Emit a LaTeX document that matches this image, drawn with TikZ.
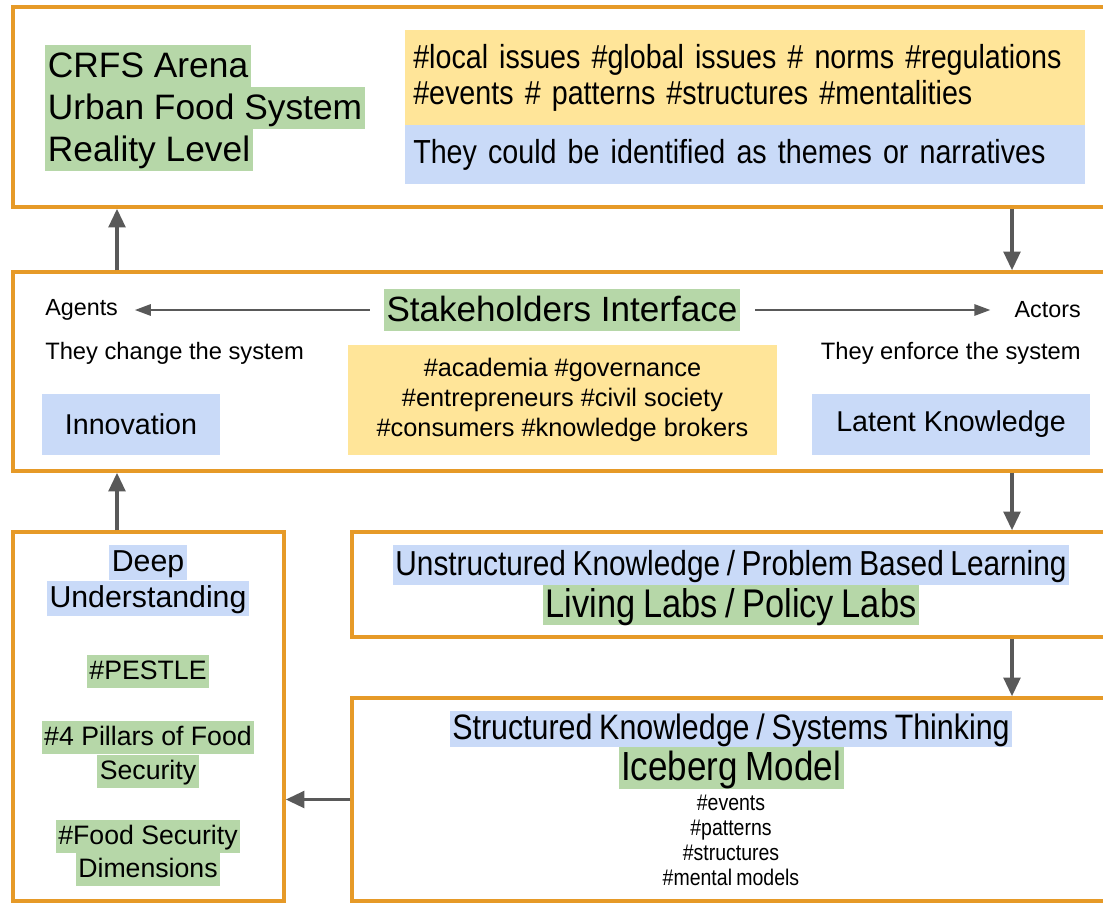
\documentclass[tikz,border=0pt]{standalone}
\usepackage{fontspec}
\setmainfont{Liberation Sans}
\newfontfamily\narrowsf[FakeStretch=0.86, WordSpace=0.8]{Liberation Sans}
\usetikzlibrary{arrows.meta,fit}

\definecolor{frameorange}{HTML}{E69A28}
\definecolor{hlyellow}{HTML}{FFE599}
\definecolor{hlblue}{HTML}{C9DAF8}
\definecolor{hlgreen}{HTML}{B6D7A8}
\definecolor{arrowgray}{HTML}{595959}

\newcommand{\fsz}[2]{\fontsize{#1}{#2}\selectfont}

\tikzset{
  frame/.style={draw=frameorange, line width=2.6pt, inner sep=0pt},
  flow/.style={draw=arrowgray, line width=2.6pt, -{Triangle[length=14pt,width=12.5pt]}},
  thinflow/.style={draw=arrowgray, line width=1.5pt, -{Triangle[length=12pt,width=8.5pt]}},
  greenhl/.style={fill=hlgreen, inner xsep=2pt, inner ysep=0pt},
  bluehl/.style={fill=hlblue, inner xsep=2pt, inner ysep=0pt},
  txt/.style={inner sep=0pt},
}

\begin{document}
\begin{tikzpicture}[x=0.75pt, y=-0.75pt]
  \useasboundingbox (0,0) rectangle (1103,904);
  \coordinate (lx) at (117,0);
  \coordinate (rx) at (1012,0);

  % Ebene 1: Arena
  \node[frame, fit={(13,7) (1115,207)}] (arena) {};
  \node[greenhl, anchor=north west, text height=24.5pt, text depth=7pt, font=\fsz{26.5}{31.5}] (crfs) at (45,45) {CRFS Arena};
  \node[greenhl, anchor=north west, text height=24.5pt, text depth=7pt, font=\fsz{26.5}{31.5}] (urban) at (45,87) {Urban Food System};
  \node[greenhl, anchor=north west, text height=24.5pt, text depth=7pt, font=\fsz{26.5}{31.5}] (reality) at (45,129) {Reality Level};
  \node[fill=hlyellow, anchor=north west, text width=498pt, inner xsep=6pt, inner ysep=0pt, minimum height=71.25pt, align=left, font=\narrowsf\fsz{25}{26.5}] (issues) at (405,30)
    {\#local issues \#global issues \# norms \#regulations\\\#events \# patterns \#structures \#mentalities};
  \node[fill=hlblue, anchor=north west, text width=498pt, inner xsep=6pt, inner ysep=0pt, minimum height=44.25pt, align=left, font=\narrowsf\fsz{25}{26.5}] (themes) at (405,125)
    {They could be identified as themes or narratives};

  % Ebene 2: Schnittstelle
  \node[frame, fit={(13,272) (1115,471)}] (iface) {};
  \node[greenhl, text height=24.5pt, text depth=7pt, font=\fsz{26.3}{31}] (stake) at (562,310) {Stakeholders Interface};
  \node[txt, anchor=west, font=\fsz{17.5}{21}] (agents) at (45,310) {Agents};
  \node[txt, anchor=east, font=\fsz{17.5}{21}] (actors) at (1081,310) {Actors};
  \draw[thinflow, shorten <=10.5pt, shorten >=12.5pt] (stake.west) -- (agents.east);
  \draw[thinflow, shorten <=11pt, shorten >=18pt] (stake.east) -- (actors.west);
  \node[txt, anchor=west, font=\fsz{17.8}{21}] (change) at (45,353) {They change the system};
  \node[txt, anchor=east, font=\fsz{17.8}{21}] (enforce) at (1081,353) {They enforce the system};
  \node[fill=hlyellow, minimum width=321.75pt, minimum height=82.5pt, inner sep=0pt, align=center, font=\fsz{19}{22.5}] (groups) at (562.5,400)
    {\#academia \#governance\\\#entrepreneurs \#civil society\\\#consumers \#knowledge brokers};
  \node[fill=hlblue, minimum width=133.5pt, minimum height=45.75pt, inner sep=0pt, font=\fsz{21.5}{25}] (innov) at (131,424.5) {Innovation};
  \node[fill=hlblue, minimum width=208.5pt, minimum height=45.75pt, inner sep=0pt, font=\fsz{21.5}{25}] (latent) at (951,424.5) {Latent Knowledge};

  % Ebene 3: Verstehen
  \node[frame, fit={(13,532) (284,901)}] (deep) {};
  \node[bluehl, text height=20pt, text depth=6.25pt, font=\fsz{22.7}{26}] (deep1) at (148,562.5) {Deep};
  \node[bluehl, text height=20pt, text depth=6.25pt, font=\fsz{22.7}{26}] (deep2) at (148,598) {Understanding};
  \node[greenhl, text height=18.75pt, text depth=6pt, font=\fsz{20}{24}] (pestle) at (148,671) {\#PESTLE};
  \node[greenhl, text height=18.75pt, text depth=6pt, font=\fsz{20}{24}] (pillars1) at (148,737) {\#4 Pillars of Food};
  \node[greenhl, text height=18.75pt, text depth=6pt, font=\fsz{20}{24}] (pillars2) at (148,771) {Security};
  \node[greenhl, text height=18.75pt, text depth=6pt, font=\fsz{20}{24}] (dims1) at (148,836) {\#Food Security};
  \node[greenhl, text height=18.75pt, text depth=6pt, font=\fsz{20}{24}] (dims2) at (148,869) {Dimensions};

  % Labs
  \node[frame, fit={(352,532) (1115,637)}] (unstruct) {};
  \node[bluehl, text height=23pt, text depth=7pt, font=\narrowsf\fsz{26}{30}] (pbl) at (731,565) {Unstructured Knowledge / Problem Based Learning};
  \node[greenhl, text height=24pt, text depth=6pt, font=\narrowsf\fsz{30}{34}] (labs) at (731,605) {Living Labs / Policy Labs};

  % Iceberg
  \node[frame, fit={(352,698) (1115,901)}] (struct) {};
  \node[bluehl, text height=21pt, text depth=6pt, font=\narrowsf\fsz{26.5}{30}] (systh) at (731,729) {Structured Knowledge / Systems Thinking};
  \node[greenhl, text height=25pt, text depth=7pt, font=\narrowsf\fsz{30.5}{34}] (iceberg) at (731,768) {Iceberg Model};
  \node[txt, align=center, font=\narrowsf\fsz{17}{18.75}] (levels) at (731,840)
    {\#events\\\#patterns\\\#structures\\\#mental models};

  % Pfeile
  \draw[flow] (iface.north -| lx) -- (arena.south -| lx);
  \draw[flow] (arena.south -| rx) -- (iface.north -| rx);
  \draw[flow] (deep.north -| lx) -- (iface.south -| lx);
  \draw[flow] (iface.south -| rx) -- (unstruct.north -| rx);
  \draw[flow] (unstruct.south -| rx) -- (struct.north -| rx);
  \draw[flow] (struct.west) -- (deep.east |- struct.west);
\end{tikzpicture}
\end{document}
